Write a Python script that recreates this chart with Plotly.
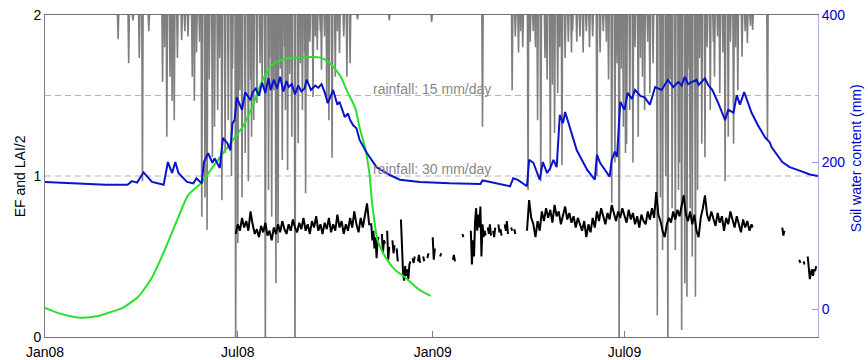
import plotly.graph_objects as go
import pandas as pd

START = pd.Timestamp("2008-01-01")

# ---------------- data (day offsets counted from 2008-01-01) ----------------
# daily rainfall events (mm/day), drawn hanging from the top axis
rain_day = [69, 79, 83, 89, 92, 98, 111, 113, 115, 118, 120, 122, 125, 129, 132, 135,
            139, 141, 143, 146, 148, 151, 153, 155, 158, 160, 163, 165, 167, 170, 173,
            176, 177, 180, 182, 184, 186, 189, 192, 194, 195, 197, 200, 203, 205, 208,
            211, 212, 214, 216, 218, 220, 222, 224, 226, 227, 229, 231, 233, 236, 239,
            241, 243, 245, 246, 248, 250, 253, 255, 257, 260, 261, 264, 266, 268, 271,
            274, 276, 278, 282, 285, 288, 295, 325, 365,
            413, 441, 444, 447, 449, 451, 456, 458, 461, 463, 465, 468, 472, 474, 477,
            479, 481, 484, 486, 488, 491, 494, 497, 498, 502, 505, 508, 511, 514, 517,
            521, 524, 527, 530, 532, 535, 538, 540, 542, 544, 546, 548, 549, 552, 555,
            557, 560, 562, 564, 566, 569, 571, 574, 578, 581, 583, 586, 588, 590, 592,
            595, 598, 599, 601, 604, 606, 608, 609, 611, 614, 616, 618, 620, 623, 625,
            628, 631, 632, 635, 637, 640, 642, 645, 647, 650, 652, 654, 658, 661, 663,
            666, 668, 682]
rain_mm = [4.5, 9, 1, 8, 31, 3, 12.5, 6, 22.7, 11.5, 16, 19.6, 8, 4.7, 3, 4,
           11.5, 16, 7, 5, 37.6, 34, 40, 12, 26.5, 20.8, 17.7, 8, 34.5, 25.7, 19.6,
           30, 10, 65, 42.5, 14, 34, 25.7, 31, 12, 22.7, 19.6, 16.4, 9, 13, 65,
           32.6, 8, 37.6, 14, 50, 42.5, 10, 27, 6, 17.7, 28.9, 11, 22.7, 65, 23.9,
           9, 17.7, 7, 33.2, 12.7, 5, 15.3, 4, 6.5, 3, 10.2, 4, 16.4, 19.6, 26.6,
           11.5, 3, 7.1, 4, 11.5, 9, 0.8, 1, 1.3,
           20.8, 14, 4, 7, 3, 6, 32.6, 5, 3, 6, 19.6, 31, 8, 12, 29,
           13, 22, 14.6, 6, 28, 8, 5, 7, 3, 5, 4, 7, 3, 6, 4,
           30, 7, 3, 5, 12, 35, 27.5, 9, 65, 10, 20.8, 25.7, 24, 17.7, 27.5,
           6, 22.7, 8, 11.5, 17.7, 5, 14.6, 9, 56, 34, 43.8, 30, 65, 12, 36,
           43.8, 32.6, 27.5, 58.7, 50, 52.5, 10, 36, 45, 52.5, 32.6, 8, 24, 26.5, 6,
           17.7, 5, 11.5, 4, 14.6, 7, 31, 22.7, 5, 24, 6, 14, 7.8, 3, 5.2,
           2, 2.8, 23.3]

# soil water content (mm)
swc_day = [0, 28, 57, 78, 82, 87, 93, 101, 112, 116, 120, 123, 126, 134, 140, 143, 148,
           150, 154, 158, 160, 165, 168, 172, 175, 177, 179, 181, 186, 189, 194, 196,
           199, 202, 205, 208, 211, 213, 216, 219, 222, 225, 228, 230, 233, 236, 239,
           242, 245, 247, 251, 255, 258, 261, 264, 267, 272, 276, 278, 283, 286, 288,
           291, 294, 297, 304, 313, 326, 335, 354, 382, 411, 413, 417, 439, 442, 446,
           455, 457, 461, 467, 470, 474, 477, 480, 483, 486, 489, 491, 494, 502, 512,
           519, 521, 524, 533, 535, 538, 540, 543, 547, 550, 554, 557, 562, 566, 571,
           576, 582, 588, 593, 598, 601, 604, 607, 611, 615, 617, 620, 623, 626, 630,
           635, 642, 645, 650, 653, 656, 660, 667, 673, 680, 684, 686, 696, 703, 713,
           722, 730]
swc_mm = [173, 171, 169, 169, 174, 172, 186, 173, 169, 200, 185, 200, 185, 173, 171, 178, 171,
          200, 212, 199, 205, 192, 233, 226, 216, 253, 257, 288, 271, 295, 284, 295,
          300, 290, 308, 294, 314, 298, 312, 300, 316, 296, 310, 302, 306, 292, 304,
          296, 300, 312, 298, 304, 301, 306, 295, 280, 298, 278, 282, 261, 266, 257,
          250, 246, 230, 212, 193, 182, 176, 173, 171, 170, 175, 174, 167, 178, 176,
          167, 203, 199, 176, 200, 185, 192, 203, 193, 264, 253, 268, 254, 216, 189,
          176, 210, 199, 180, 203, 214, 207, 282, 271, 294, 286, 298, 290, 288, 278,
          302, 298, 312, 302, 309, 304, 316, 306, 309, 312, 305, 310, 314, 305, 298,
          282, 257, 271, 267, 291, 278, 295, 267, 250, 233, 227, 220, 200, 193, 188,
          183, 181]

# LAI/2
lai_day = [0, 12, 33, 50, 62, 73, 88, 101, 113, 125, 135, 148, 161, 177, 188, 198, 203,
           213, 222, 236, 260, 269, 279, 285, 293, 297, 302, 306, 309, 314, 322, 330,
           340, 352, 364]
lai_half = [0.18, 0.15, 0.12, 0.13, 0.155, 0.18, 0.25, 0.37, 0.54, 0.73, 0.88, 0.96, 1.08,
            1.22, 1.32, 1.47, 1.56, 1.68, 1.72, 1.735, 1.735, 1.70, 1.62, 1.53, 1.42, 1.30,
            1.18, 1.03, 0.82, 0.60, 0.49, 0.42, 0.37, 0.30, 0.255]

# evaporative fraction (None = missing)
ef_day = [180, 182, 184, 186, 188, 190, 192, 194, 196, 198, 200, 202, 204, 206, 208, 210,
          212, 214, 216, 218, 220, 222, 224, 226, 228, 230, 232, 234, 236, 238, 240, 242,
          244, 246, 248, 250, 252, 254, 256, 258, 260, 262, 264, 266, 268, 270, 272, 274,
          276, 278, 280, 282, 284, 286, 288, 290, 292, 294, 296, 298, 300, 302, 304, 306,
          308, 309, 310, 311, 312, 313, 314, 315, 316,
          318, 319, 320, 321, 322,
          323, 324, 325, 326,
          328, 329, 330, 331,
          332, 333, 334,
          336, 337, 338, 339, 340, 341, 342, 343, 344, 345, 346,
          347, 348, 349, 350,
          352, 353, 354, 355,
          357, 358, 359,
          361, 362, 363,
          366, 367, 368, 369,
          373, 374, 375,
          385, 386, 387, 388,
          394, 395, 396,
          402, 403, 404, 405, 406, 407, 408, 409, 410, 411, 412, 413, 414, 415, 416, 417,
          418, 419, 420, 421, 422,
          423, 424, 425, 426,
          428, 429, 430, 431, 432,
          434, 435, 436, 437, 438,
          440, 441, 442,
          443, 444, 445,
          455, 457, 459, 461, 463, 465, 467, 469, 471, 473, 475, 477, 479, 481, 483, 485,
          487, 489, 491, 493, 495, 497, 499, 501, 503, 505, 507, 509, 511, 513, 515, 517,
          519, 521, 523, 525, 527, 529, 531, 533, 535, 537, 539, 541, 543, 545, 547, 549,
          551, 553, 555, 557, 559, 561, 563, 565, 567, 569, 571, 573, 575, 577, 579, 581,
          583, 585, 587, 589, 591, 593, 595, 597, 599, 601, 603, 605, 607, 609, 611, 613,
          615, 617, 619, 621, 623, 625, 627, 629, 631, 633, 635, 637, 639, 641, 643, 645,
          647, 649, 651, 653, 655, 657, 659, 661, 663, 665, 667, 668, 669,
          696, 697, 698, 699,
          712, 713, 714,
          716, 717, 718,
          720, 721, 722, 723, 724, 725, 726, 727, 728]
ef_val = [0.64, 0.70, 0.66, 0.74, 0.68, 0.72, 0.66, 0.78, 0.70, 0.64, 0.67, 0.62, 0.69, 0.65, 0.71, 0.63,
          0.66, 0.60, 0.68, 0.64, 0.70, 0.65, 0.72, 0.67, 0.64, 0.70, 0.66, 0.73, 0.68, 0.65, 0.71, 0.67,
          0.74, 0.66, 0.70, 0.64, 0.72, 0.68, 0.75, 0.66, 0.70, 0.64, 0.71, 0.67, 0.74, 0.65, 0.70, 0.66,
          0.76, 0.68, 0.72, 0.64, 0.70, 0.66, 0.74, 0.68, 0.78, 0.70, 0.65, 0.74, 0.68, 0.76, 0.83, 0.70,
          0.70, 0.60, 0.66, 0.55, 0.62, 0.49, 0.60, 0.62, None,
          0.64, 0.52, 0.60, 0.58, None,
          0.66, 0.48, 0.56, None,
          0.60, 0.52, 0.57, None,
          0.55, 0.47, None,
          0.73, 0.55, 0.40, 0.35, 0.44, 0.38, 0.42, 0.36, 0.45, 0.47, None,
          0.49, 0.46, 0.50, None,
          0.47, 0.51, 0.46, None,
          0.50, 0.47, None,
          0.49, 0.52, None,
          0.62, 0.48, 0.55, None,
          0.50, 0.52, None,
          0.48, 0.51, 0.47, None,
          0.64, 0.62, None,
          0.66, 0.45, 0.60, 0.50, 0.72, 0.80, 0.66, 0.76, 0.68, 0.81, 0.50, 0.70, 0.62, 0.66, 0.63, None,
          0.68, 0.64, 0.70, 0.63, None,
          0.66, 0.62, 0.68, None,
          0.70, 0.65, 0.67, 0.63, None,
          0.70, 0.66, 0.72, 0.64, None,
          0.68, 0.66, None,
          0.67, 0.64, None,
          0.66, 0.85, 0.74, 0.70, 0.62, 0.72, 0.66, 0.78, 0.72, 0.80, 0.74, 0.79, 0.71, 0.82, 0.75, 0.78,
          0.70, 0.76, 0.81, 0.73, 0.77, 0.71, 0.75, 0.68, 0.74, 0.70, 0.66, 0.72, 0.62, 0.70, 0.65, 0.74,
          0.68, 0.78, 0.72, 0.80, 0.74, 0.70, 0.77, 0.73, 0.82, 0.76, 0.72, 0.78, 0.74, 0.80, 0.75, 0.71,
          0.79, 0.73, 0.77, 0.70, 0.75, 0.68, 0.76, 0.72, 0.70, 0.78, 0.73, 0.80, 0.74, 0.90, 0.76, 0.72,
          0.66, 0.62, 0.70, 0.74, 0.71, 0.78, 0.73, 0.79, 0.75, 0.82, 0.88, 0.76, 0.72, 0.78, 0.70, 0.76,
          0.66, 0.62, 0.74, 0.80, 0.88, 0.76, 0.72, 0.78, 0.74, 0.69, 0.77, 0.71, 0.75, 0.66, 0.74, 0.70,
          0.78, 0.72, 0.68, 0.75, 0.70, 0.65, 0.73, 0.68, 0.72, 0.66, 0.70, 0.68, None,
          0.68, 0.63, 0.66, None,
          0.48, 0.46, None,
          0.47, 0.45, None,
          0.50, 0.44, 0.36, 0.40, 0.42, 0.38, 0.42, 0.41, 0.44]

x_ticks = ["2008-01-01", "2008-07-01", "2009-01-01", "2009-07-01"]
x_tick_text = ["Jan08", "Jul08", "Jan09", "Jul09"]
ef_ticks = [0, 1, 2]
swc_ticks = [0, 200, 400]
ref_levels = [1.5, 1.0]
ref_labels = ["rainfall: 15 mm/day", "rainfall: 30 mm/day"]


def to_date(d):
    return START + pd.Timedelta(days=d)


# rainfall drawn as thin spikes hanging from the top (zero -> value -> zero)
rx, ry = [], []
for d, v in zip(rain_day, rain_mm):
    rx += [to_date(d - 0.6), to_date(d), to_date(d + 0.6), None]
    ry += [0, v, 0, None]

FONT = "Liberation Sans, Arial, Helvetica, sans-serif"
BLUE_TXT = "#0000cc"

fig = go.Figure()

fig.add_trace(go.Scatter(
    x=rx, y=ry, yaxis="y", mode="lines",
    line=dict(color="#7f7f7f", width=1.6), hoverinfo="skip"))

fig.add_trace(go.Scatter(
    x=[to_date(d) for d in ef_day], y=ef_val, yaxis="y2", mode="lines",
    line=dict(color="black", width=2), connectgaps=False))

fig.add_trace(go.Scatter(
    x=[to_date(d) for d in lai_day], y=lai_half, yaxis="y2", mode="lines",
    line=dict(color="rgb(40,225,40)", width=2, shape="spline", smoothing=0.6)))

fig.add_trace(go.Scatter(
    x=[to_date(d) for d in swc_day], y=swc_mm, yaxis="y3", mode="lines",
    line=dict(color="rgb(10,20,205)", width=2)))

shapes = []
annotations = []
for lvl, lab in zip(ref_levels, ref_labels):
    shapes.append(dict(type="line", xref="paper", x0=0, x1=1, yref="y2", y0=lvl, y1=lvl,
                       line=dict(color="#b4b4b4", width=1, dash="6px,4px"), layer="below"))
    annotations.append(dict(x="2008-12-31", xref="x", y=lvl, yref="y2", text=lab,
                            showarrow=False, xanchor="center", yanchor="bottom", yshift=-3,
                            font=dict(family=FONT, size=14, color="#888888")))

annotations.append(dict(x=-0.032, xref="paper", y=0.5, yref="paper", text="EF and LAI/2",
                        textangle=-90, showarrow=False, xanchor="center", yanchor="middle",
                        font=dict(family=FONT, size=14, color="black")))
annotations.append(dict(x=1.049, xref="paper", y=0.555, yref="paper",
                        text="Soil water content (mm)", textangle=-90, showarrow=False,
                        xanchor="center", yanchor="middle",
                        font=dict(family=FONT, size=14, color=BLUE_TXT)))

fig.update_layout(
    width=868, height=360,
    margin=dict(l=45, r=50, t=15, b=23, autoexpand=False),
    plot_bgcolor="white", paper_bgcolor="white",
    showlegend=False,
    shapes=shapes, annotations=annotations,
    xaxis=dict(type="date", range=["2008-01-01", "2009-12-30 17:00"],
               tickvals=x_ticks, ticktext=x_tick_text,
               ticks="inside", ticklen=6, tickcolor="#808080",
               showline=True, linecolor="#707070", linewidth=1, mirror=True,
               showgrid=False, zeroline=False, automargin=False,
               ticklabelstandoff=2,
               tickfont=dict(family=FONT, size=14, color="black")),
    yaxis=dict(range=[60, 0], visible=False, showgrid=False, zeroline=False,
               automargin=False),
    yaxis2=dict(overlaying="y", side="left", range=[0, 2], tickvals=ef_ticks,
                ticks="", showline=True, linecolor="#808080", linewidth=1,
                showgrid=False, zeroline=False, automargin=False,
                tickfont=dict(family=FONT, size=14, color="black")),
    yaxis3=dict(overlaying="y", side="right", range=[-38, 400], tickvals=swc_ticks,
                ticks="inside", ticklen=6, tickcolor="#9a9ad0",
                showline=True, linecolor="#b0b0d8", linewidth=1,
                showgrid=False, zeroline=False, automargin=False,
                tickfont=dict(family=FONT, size=14, color=BLUE_TXT)),
)

fig.write_html("out.html")
